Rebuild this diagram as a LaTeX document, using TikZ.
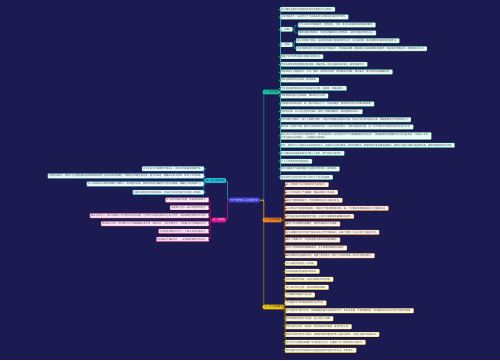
\documentclass[tikz,border=0pt]{standalone}
\usepackage{fontspec}
\newfontfamily\cjk{Noto Sans CJK SC}
\usepackage{xcolor}
\usetikzlibrary{positioning, shadows}
\definecolor{mapbg}{HTML}{1B1B52}
\definecolor{mapcore}{HTML}{3B3BD4}
\definecolor{mapteal}{HTML}{1ABC9C}
\definecolor{maporange}{HTML}{E67E22}
\definecolor{mapyellow}{HTML}{F1C40F}
\definecolor{mapcyan}{HTML}{1EBBD7}
\definecolor{mapmagenta}{HTML}{E4168A}

\begin{document}
\begin{tikzpicture}[x=1pt, y=-1pt,
    core/.style={fill=mapcore, text=white, rounded corners=1pt,
      inner xsep=1.5pt, inner ysep=1.3pt, font=\cjk\fontsize{2.8}{3.3}\selectfont},
    topic/.style={fill=#1, rounded corners=.8pt, inner xsep=1.2pt, inner ysep=1.2pt,
      text=black!85, font=\cjk\fontsize{2.3}{2.8}\selectfont},
    leaf/.style={draw=#1, fill=#1!7!white, line width=.3pt, rounded corners=.6pt,
      inner xsep=1pt, inner ysep=1.2pt, align=left, text=black!75,
      font=\cjk\fontsize{2.3}{2.8}\selectfont,
      drop shadow={shadow xshift=.6pt, shadow yshift=-.6pt, fill=black, opacity=.55}},
    twig/.style={draw=#1, line width=.5pt, rounded corners=1.5pt}]
\useasboundingbox[fill=mapbg] (0,0) rectangle (500,360);

% --- Centre \& main topics ---
\node[core, anchor=west](core) at (229,200) {PPT制作实习总结范文};
\node[topic=mapteal, anchor=west](plan) at (263,92) {一、实习内容};
\node[topic=maporange, anchor=west](gain) at (263,220) {二、实习的收获};
\node[topic=mapyellow, anchor=west](sum) at (263,307) {三、实习总结报告};
\node[topic=mapcyan, anchor=east](lack) at (226,180.5) {四、实习中的不足};
\node[topic=mapmagenta, anchor=east, text=white](close) at (226,220) {五、结束语};
\foreach \b/\c in {plan/mapteal, gain/maporange, sum/mapyellow}
  {\draw[twig=\c](core.east) -- ++(4,0) |- (\b.west);}
\foreach \b/\c in {lack/mapcyan, close/mapmagenta}
  {\draw[twig=\c](core.west) -- ++(-1.5,0) |- (\b.east);}

% --- 一、实习内容 ---
\foreach \y/\t [count=\i] in {
  9.3/实习期间主要在市场部负责演示文稿的设计与制作。,
  17/在导师指导下，先后参与了产品发布会与年度总结会的PPT制作。,
  56.7/掌握了PPT制作的基本流程与常用技巧。,
  64.3/学会先用思维导图理清内容逻辑，再确定每一页的主题和表达重点，避免堆砌文字。,
  72/在版式设计上遵循对齐、对比、重复、亲密四大原则，使页面层次清晰、重点突出，便于观众快速理解信息。,
  80/熟练运用母版与版式统一整体风格。,
  88.3/学会将枯燥的数据转化为直观的柱状图、饼图等，增强说服力。,
  96/合理使用动画与切换效果，做到简洁不花哨。,
  104/注重图片素材的选择，统一图片风格与尺寸，并通过裁剪、蒙版等方式提升页面的美观度。,
  111.7/在配色方面，以公司主色调为基础，搭配一至两种辅助色，保持整体协调统一。,
  119.7/在制作客户提案时，深入了解客户需求，从客户的角度出发组织内容，突出产品优势和解决方案，使提案更具针对性和吸引力。,
  127/每完成一份演示文稿，都会主动请导师审阅，认真记录修改意见，对照问题逐条完善，在一次次修改中不断提升自己的设计水平。,
  136/通过参与公司年会演示文稿的制作，我深刻体会到一份优秀的PPT不仅需要精美的视觉设计，更需要清晰的逻辑和有力的内容支撑，二者缺一不可，\\只有内容与形式相统一，才能真正打动观众。,
  145.3/此外，我还学习了演讲与演示的配合技巧，在排练中注意控制每一页的停留时间，根据演讲节奏设置动画顺序，使演示过程与讲解内容紧密衔接，整体效果更加自然流畅。,
  153.3/实习期间共完成各类演示文稿二十余份，累计页面三百余页。,
  161.3/个人工作效率得到明显提高。,
  169/同时也锻炼了沟通协调能力与团队合作意识，收获颇丰。,
  177.3/这些经历为今后的学习和工作打下了坚实的基础。}{
  \node[leaf=mapteal, anchor=west](plan\i) at (280,\y) {\t};
  \draw[twig=mapteal](plan.east) -- ++(1,0) |- (plan\i.west);
}
\node[leaf=mapteal, anchor=west](pre) at (280,29.3) {1、前期：};
\node[leaf=mapteal, anchor=west](post) at (280,44.7) {2、后期：};
\draw[twig=mapteal](plan.east) -- ++(1,0) |- (pre.west);
\draw[twig=mapteal](plan.east) -- ++(1,0) |- (post.west);
\foreach \y/\t [count=\i] in {
  25/学习公司PPT模板规范，熟悉配色、字体、版式以及图标素材的使用要求。,
  33/整理往期优秀案例，分析其逻辑结构与视觉表现，总结可借鉴的制作方法。}{
  \node[leaf=mapteal, anchor=west](pre\i) at (298,\y) {\t};
  \draw[twig=mapteal](pre.east) -- ++(2,0) |- (pre\i.west);
}
\foreach \y/\t [count=\i] in {
  40.7/独立承担部门周报、培训课件和客户提案的制作任务，从内容梳理、框架搭建到页面排版全程参与。,
  48.7/协助同事完成大型活动的演示文稿设计，负责动画效果、图表美化与多媒体素材的整合，保证演示流畅自然，得到领导的认可。}{
  \node[leaf=mapteal, anchor=west](post\i) at (296,\y) {\t};
  \draw[twig=mapteal](post.east) -- ++(1.5,0) |- (post\i.west);
}

% --- 二、实习的收获 ---
\foreach \y/\t [count=\i] in {
  184.7/进一步提高了办公软件的综合运用能力。,
  192.3/在工作中培养了严谨细致、精益求精的工作态度。,
  200.3/增强了逻辑思维能力，学会用结构化的方式表达观点。,
  208.3/认识到设计不是简单的美化，而是为了更好地传递信息，每一个元素的使用都应服务于内容的表达。,
  216.3/学会站在观众的角度思考问题，让演示内容更容易被理解和接受。,
  224/懂得了时间管理的重要性，能够合理安排工作进度。,
  232.3/在与同事的交流中学到了很多书本上学不到的知识，开阔了视野，也认识到了自身的不足。,
  240/提升了审美水平，对色彩搭配与版式布局更加敏感。,
  248/学会了利用网络资源收集素材，并注意遵守版权相关规定。,
  255.7/体会到职场与校园的不同，增强了责任意识，明白了认真对待每一项工作任务的意义。}{
  \node[leaf=maporange, anchor=west](gain\i) at (285,\y) {\t};
  \draw[twig=maporange!60!black](gain.east) -- ++(2.5,0) |- (gain\i.west);
}

% --- 三、实习总结报告 ---
\foreach \y/\t [count=\i] in {
  263.3/专业技能仍有待进一步加强。,
  271.3/对高级动画功能掌握不够熟练。,
  279.3/制作效率还不够高，时间分配有时不够合理。,
  287.3/设计缺乏独立创意，较多依赖现有模板。,
  295/与同事的沟通还不够主动。,
  303/今后要多学习和借鉴优秀的设计作品。,
  310.7/在今后的学习和工作中，我将继续加强专业知识的学习，多动手实践，不断积累经验，努力提高自己的设计能力和综合素质。,
  318.7/始终保持积极的学习态度，虚心向他人请教。,
  326.7/学会总结与反思，每完成一项任务都及时复盘，查找不足之处。,
  334.5/感谢公司给予的实习机会，感谢导师和同事们的悉心指导与帮助，让我在实践中快速成长。,
  342.3/这次实习让我更加明确了今后的努力方向，也增强了步入职场的信心和勇气。,
  350.3/我会把实习中学到的知识与经验运用到今后的工作中去，不断进步。}{
  \node[leaf=mapyellow, anchor=west](sum\i) at (285,\y) {\t};
  \draw[twig=mapyellow!55!black](sum.east) -- ++(1,0) |- (sum\i.west);
}

% --- 四、实习中的不足 ---
\foreach \y/\t [count=\i] in {
  168.7/对公司业务了解得还不够深入，有时对内容重点把握不准。,
  176/在制作过程中，有时过于注重页面的视觉效果而忽略了内容本身的逻辑性，导致部分页面信息过多、重点不突出，需要多次返工修改，影响了工作效率。,
  184/对一些新的设计软件和插件了解较少，例如图片处理、图标制作等方面的能力还比较薄弱，需要在今后加强学习。,
  192.3/在面对紧急任务时容易紧张，抗压能力和应变能力有待进一步提高。}{
  \node[leaf=mapcyan, anchor=east](lack\i) at (204,\y) {\t};
  \draw[twig=mapcyan](lack.west) -- ++(-1,0) |- (lack\i.east);
}

% --- 五、结束语 ---
\foreach \y/\t [count=\i] in {
  200/实习的时间虽然短暂，但是收获却很大。,
  207.7/这是我人生中一段非常宝贵的经历。,
  215.7/通过这次实习，我不仅提高了PPT制作的专业技能，也学会了如何在团队中与他人合作，如何高效地完成工作任务。,
  223.7/我深刻认识到，无论做什么工作都需要认真负责、踏实肯干，只有不断学习，才能跟上时代发展的步伐。,
  231.3/今后我会继续努力学习，不断充实和完善自己。,
  239.3/相信通过不懈的努力，一定能够取得更大的进步。}{
  \node[leaf=mapmagenta, anchor=east](close\i) at (209,\y) {\t};
  \draw[twig=mapmagenta!80!black](close.west) -- ++(-1.5,0) |- (close\i.east);
}
\end{tikzpicture}
\end{document}
